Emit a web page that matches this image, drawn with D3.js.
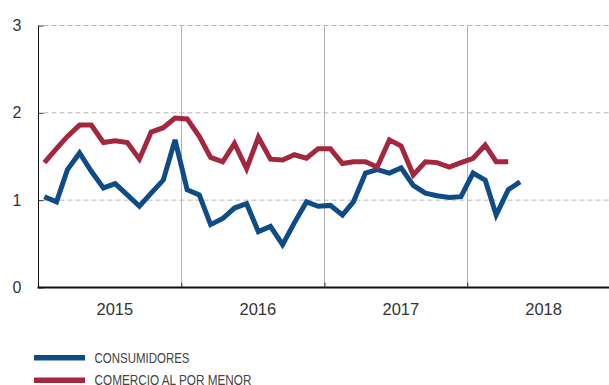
<!DOCTYPE html>
<html>
<head>
<meta charset="utf-8">
<script src="https://cdn.jsdelivr.net/npm/d3@7"></script>
<style>
  html, body { margin: 0; padding: 0; background: #fff; }
  svg { display: block; }
</style>
</head>
<body>
<div id="chart"></div>
<script>
(function () {
  'use strict';

  // monthly series, Jan 2015 onward
  const startMonth = new Date(2015, 0, 1);
  const consumidores = [
    1.04, 0.98, 1.35, 1.54, 1.33, 1.14, 1.19, 1.06, 0.93, 1.08, 1.23, 1.69,
    1.12, 1.06, 0.72, 0.79, 0.91, 0.96, 0.64, 0.70, 0.49, 0.74, 0.98, 0.93,
    0.94, 0.83, 0.98, 1.31, 1.35, 1.31, 1.37, 1.17, 1.08, 1.05, 1.03, 1.04,
    1.31, 1.23, 0.83, 1.12, 1.21
  ];
  const comercio = [
    1.43, 1.59, 1.73, 1.86, 1.86, 1.66, 1.68, 1.66, 1.47, 1.78, 1.83, 1.94,
    1.93, 1.73, 1.49, 1.44, 1.65, 1.36, 1.72, 1.47, 1.46, 1.52, 1.48, 1.59,
    1.59, 1.42, 1.44, 1.44, 1.38, 1.69, 1.62, 1.29, 1.44, 1.43, 1.38, 1.43,
    1.48, 1.63, 1.44, 1.44
  ];
  const years = [2015, 2016, 2017, 2018];
  const yTicks = [0, 1, 2, 3];
  const seriesNames = ['CONSUMIDORES', 'COMERCIO AL POR MENOR'];
  const seriesColors = ['#0f4c86', '#a3283f'];

  const W = 609, H = 385;
  const left = 38.5, right = 610, top = 25.5, bottom = 287.5;

  const svg = d3.select('#chart').append('svg').attr('width', W).attr('height', H);

  const x = d3.scaleTime()
    .domain([new Date(2015, 0, 1), new Date(2019, 0, 1)])
    .range([left, right]);
  const y = d3.scaleLinear().domain([0, 3]).range([bottom, top]);

  const midMonth = i => new Date(startMonth.getFullYear(), startMonth.getMonth() + i, 16);

  // dashed horizontal grid
  svg.append('g').selectAll('line').data(yTicks.filter(d => d > 0)).join('line')
    .attr('x1', left + 5).attr('x2', W)
    .attr('y1', d => y(d)).attr('y2', d => y(d))
    .attr('stroke', '#b3b3b3').attr('stroke-width', 1).attr('stroke-dasharray', '5,3');

  // year separators
  const bounds = years.slice(1).map(yr => new Date(yr, 0, 1));
  svg.append('g').selectAll('line').data(bounds).join('line')
    .attr('x1', d => Math.round(x(d)) + 0.5).attr('x2', d => Math.round(x(d)) + 0.5)
    .attr('y1', top).attr('y2', bottom)
    .attr('stroke', '#b0b0b0').attr('stroke-width', 1);

  // y axis (ticks inward)
  const yAxis = svg.append('g').attr('transform', `translate(${left},0)`)
    .call(d3.axisRight(y).tickValues(yTicks).tickSize(5).tickFormat(''));
  yAxis.select('.domain').attr('stroke', '#111').attr('d', `M0,${top}V${bottom}`);
  yAxis.selectAll('.tick line').attr('stroke', '#333');
  svg.append('g').selectAll('text').data(yTicks).join('text')
    .attr('x', 17).attr('y', d => y(d) + 5.5)
    .attr('text-anchor', 'middle')
    .style('font-family', 'Liberation Sans, Arial, sans-serif').style('font-size', '16px')
    .style('fill', '#333').text(d => d);

  // lines
  const line = d3.line().x((d, i) => x(midMonth(i))).y(d => y(d));
  [consumidores, comercio].forEach((s, k) => {
    svg.append('path').datum(s)
      .attr('d', line)
      .attr('fill', 'none')
      .attr('stroke', seriesColors[k])
      .attr('stroke-width', 5)
      .attr('stroke-linejoin', 'miter')
      .attr('stroke-miterlimit', 3);
  });

  // x axis
  const xAxis = svg.append('g').attr('transform', `translate(0,${bottom})`)
    .call(d3.axisTop(x).tickValues(bounds).tickSize(5).tickFormat(''));
  xAxis.select('.domain').attr('stroke', '#111').attr('stroke-width', 2).attr('d', `M${left - 1},0H${W}`);
  xAxis.selectAll('.tick line').attr('stroke', '#333');

  svg.append('g').selectAll('text').data(years).join('text')
    .attr('x', yr => (x(new Date(yr, 0, 1)) + x(new Date(yr + 1, 0, 1))) / 2 + 5)
    .attr('y', 315)
    .attr('text-anchor', 'middle')
    .style('font-family', 'Liberation Sans, Arial, sans-serif').style('font-size', '16.5px')
    .style('fill', '#333').text(d => d);

  // legend (condensed lettering squeezed to the reference widths)
  const legendWidths = [95, 157];
  const lg = svg.append('g').selectAll('g').data(seriesNames).join('g')
    .attr('transform', (d, i) => `translate(34,${357.7 + i * 22.5})`);
  lg.append('rect').attr('x', 0).attr('y', -2.7).attr('width', 51).attr('height', 5.5)
    .attr('fill', (d, i) => seriesColors[i]);
  lg.append('text').attr('x', 60.5).attr('y', 4.8)
    .attr('textLength', (d, i) => legendWidths[i])
    .attr('lengthAdjust', 'spacingAndGlyphs')
    .style('font-family', 'Liberation Sans, Arial, sans-serif').style('font-size', '14.5px')
    .style('fill', '#444').text(d => d);
})();
</script>
</body>
</html>
